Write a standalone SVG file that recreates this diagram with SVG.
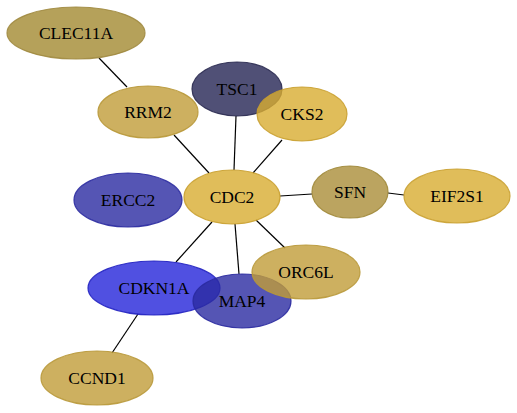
<svg xmlns="http://www.w3.org/2000/svg" width="517" height="413" viewBox="0 0 517 413">
<style>
.e{stroke:#000;stroke-width:1.2;fill:none}
.n ellipse{stroke-width:1.2;fill-opacity:0.8;stroke-opacity:0.9}
.n text{font-family:"Liberation Serif",serif;font-size:17.5px;text-anchor:middle;fill:#000}
.gold ellipse{fill:#d8ac31;stroke:#c9a030}
.olive ellipse{fill:#a28a31;stroke:#a08a40}
.sfn ellipse{fill:#aa8d38;stroke:#a08838}
.tan ellipse{fill:#c09c38;stroke:#b89838}
.slate ellipse{fill:#242454;stroke:#2a2a50}
.blue ellipse{fill:#2a2aa1;stroke:#2a2aa0}
.bright ellipse{fill:#2424d9;stroke:#2020c0}
</style>
<rect width="517" height="413" fill="#fff"/>
<g id="edges">
<line class="e" x1="99" y1="58" x2="127" y2="87"/>
<line class="e" x1="174" y1="135" x2="209" y2="173"/>
<line class="e" x1="236" y1="116" x2="234" y2="170"/>
<line class="e" x1="282" y1="140" x2="253" y2="173"/>
<line class="e" x1="280" y1="196" x2="312" y2="194"/>
<line class="e" x1="388" y1="193" x2="404" y2="195"/>
<line class="e" x1="256" y1="220" x2="285" y2="248"/>
<line class="e" x1="235" y1="224" x2="239" y2="274"/>
<line class="e" x1="212" y1="222" x2="176" y2="262"/>
<line class="e" x1="138" y1="314" x2="112" y2="353"/>
</g>
<g id="CLEC11A" class="n olive"><ellipse cx="76" cy="33" rx="69" ry="26"/><text x="76" y="39">CLEC11A</text></g>
<g id="RRM2" class="n tan"><ellipse cx="148" cy="112" rx="50" ry="26"/><text x="148" y="118">RRM2</text></g>
<g id="TSC1" class="n slate"><ellipse cx="237" cy="89" rx="45" ry="27"/><text x="237" y="95">TSC1</text></g>
<g id="CKS2" class="n gold"><ellipse cx="302" cy="114" rx="45" ry="27"/><text x="302" y="120">CKS2</text></g>
<g id="ERCC2" class="n blue"><ellipse cx="128" cy="200" rx="54" ry="27"/><text x="128" y="206">ERCC2</text></g>
<g id="CDC2" class="n gold"><ellipse cx="232" cy="197" rx="48" ry="27"/><text x="232" y="203">CDC2</text></g>
<g id="SFN" class="n sfn"><ellipse cx="350" cy="192" rx="38" ry="26"/><text x="350" y="198">SFN</text></g>
<g id="EIF2S1" class="n gold"><ellipse cx="457" cy="196" rx="53" ry="27"/><text x="457" y="202">EIF2S1</text></g>
<g id="CDKN1A" class="n bright"><ellipse cx="154" cy="288" rx="66" ry="27"/><text x="154" y="294">CDKN1A</text></g>
<g id="MAP4" class="n blue"><ellipse cx="242" cy="301" rx="49" ry="27"/><text x="242" y="307">MAP4</text></g>
<g id="ORC6L" class="n tan"><ellipse cx="306" cy="272" rx="54" ry="27"/><text x="306" y="278">ORC6L</text></g>
<g id="CCND1" class="n tan"><ellipse cx="97" cy="378" rx="56" ry="27"/><text x="97" y="384">CCND1</text></g>
</svg>
